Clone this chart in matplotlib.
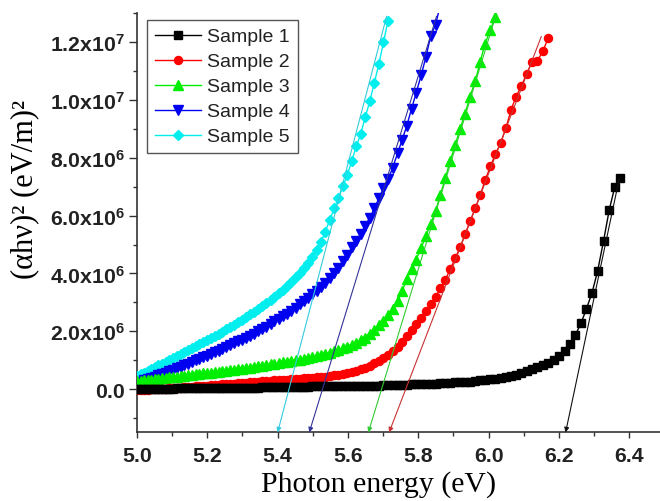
import matplotlib
matplotlib.use("Agg")
import matplotlib.pyplot as plt
from matplotlib.ticker import MultipleLocator, FixedLocator, FuncFormatter

plt.rcParams['font.family'] = ['Liberation Sans', 'DejaVu Sans']
plt.rcParams['mathtext.fontset'] = 'custom'
plt.rcParams['mathtext.bf'] = 'Liberation Sans:bold'
plt.rcParams['mathtext.rm'] = 'Liberation Sans:bold'
plt.rcParams['mathtext.default'] = 'bf'

# ---------------- data (y in units of 1e6 (eV/m)^2) ----------------
energy = [5.000, 5.010, 5.020, 5.030, 5.041, 5.051, 5.061, 5.072, 5.082, 5.092,
          5.103, 5.113, 5.124, 5.135, 5.145, 5.156, 5.167, 5.177, 5.188, 5.199,
          5.210, 5.221, 5.232, 5.243, 5.254, 5.265, 5.277, 5.288, 5.299, 5.310,
          5.322, 5.333, 5.345, 5.356, 5.368, 5.380, 5.391, 5.403, 5.415, 5.427,
          5.439, 5.451, 5.463, 5.475, 5.487, 5.499, 5.511, 5.523, 5.536, 5.548,
          5.561, 5.573, 5.586, 5.598, 5.611, 5.624, 5.636, 5.649, 5.662, 5.675,
          5.688, 5.701, 5.714, 5.727, 5.741, 5.754, 5.767, 5.781, 5.794, 5.808,
          5.822, 5.835, 5.849, 5.863, 5.877, 5.891, 5.905, 5.919, 5.933, 5.947,
          5.962, 5.976, 5.990, 6.005, 6.019, 6.034, 6.049, 6.064, 6.078, 6.093,
          6.108, 6.123, 6.139, 6.154, 6.169, 6.185, 6.200, 6.216, 6.231, 6.247,
          6.263, 6.278, 6.294, 6.310, 6.327, 6.343, 6.359, 6.375]

sample1 = [0.00, 0.00, 0.00, 0.00, 0.01, 0.01, 0.01, 0.01, 0.01, 0.01,
           0.01, 0.02, 0.02, 0.02, 0.02, 0.02, 0.02, 0.02, 0.02, 0.02,
           0.02, 0.03, 0.03, 0.03, 0.03, 0.04, 0.04, 0.04, 0.04, 0.05,
           0.05, 0.05, 0.05, 0.06, 0.06, 0.06, 0.06, 0.07, 0.07, 0.07,
           0.07, 0.08, 0.08, 0.08, 0.08, 0.09, 0.09, 0.09, 0.09, 0.10,
           0.10, 0.10, 0.10, 0.11, 0.11, 0.11, 0.11, 0.12, 0.12, 0.12,
           0.12, 0.13, 0.13, 0.14, 0.14, 0.15, 0.15, 0.16, 0.16, 0.17,
           0.17, 0.18, 0.19, 0.20, 0.21, 0.22, 0.23, 0.24, 0.25, 0.26,
           0.28, 0.30, 0.32, 0.34, 0.36, 0.39, 0.42, 0.46, 0.50, 0.55,
           0.61, 0.68, 0.75, 0.82, 0.90, 1.00, 1.13, 1.33, 1.56, 1.88,
           2.28, 2.77, 3.32, 4.08, 5.13, 6.19, 7.00, 7.30]

sample2 = [-0.04, -0.03, -0.03, -0.02, -0.01, -0.01, 0.00, 0.01, 0.01, 0.02,
           0.03, 0.04, 0.05, 0.06, 0.07, 0.08, 0.09, 0.10, 0.11, 0.12,
           0.13, 0.14, 0.15, 0.16, 0.17, 0.18, 0.19, 0.20, 0.21, 0.22,
           0.23, 0.24, 0.26, 0.27, 0.28, 0.29, 0.30, 0.31, 0.32, 0.33,
           0.34, 0.35, 0.36, 0.37, 0.38, 0.39, 0.40, 0.42, 0.43, 0.45,
           0.47, 0.49, 0.52, 0.55, 0.59, 0.63, 0.68, 0.74, 0.81, 0.89,
           0.98, 1.08, 1.19, 1.32, 1.46, 1.63, 1.82, 2.03, 2.24, 2.47,
           2.71, 2.95, 3.19, 3.48, 3.78, 4.15, 4.52, 4.90, 5.35, 5.80,
           6.25, 6.70, 7.22, 7.70, 8.12, 8.50, 9.02, 9.66, 10.12, 10.48,
           10.90, 11.30, 11.36, 11.68, 12.13]

sample3 = [0.27, 0.29, 0.30, 0.31, 0.33, 0.34, 0.36, 0.37, 0.39, 0.40,
           0.42, 0.43, 0.45, 0.46, 0.48, 0.49, 0.51, 0.52, 0.54, 0.55,
           0.57, 0.58, 0.60, 0.61, 0.63, 0.65, 0.66, 0.68, 0.70, 0.72,
           0.74, 0.76, 0.79, 0.81, 0.83, 0.85, 0.87, 0.89, 0.92, 0.94,
           0.96, 0.99, 1.02, 1.04, 1.07, 1.10, 1.13, 1.17, 1.21, 1.25,
           1.30, 1.35, 1.41, 1.47, 1.54, 1.61, 1.68, 1.78, 1.90, 2.05,
           2.20, 2.37, 2.56, 2.78, 3.03, 3.38, 3.80, 4.15, 4.48, 4.88,
           5.30, 5.72, 6.15, 6.72, 7.30, 7.90, 8.45, 9.00, 9.52, 10.12,
           10.65, 11.32, 11.95, 12.42, 12.88]

sample4 = [0.22, 0.26, 0.30, 0.34, 0.39, 0.43, 0.48, 0.53, 0.57, 0.62,
           0.67, 0.72, 0.77, 0.82, 0.87, 0.93, 0.99, 1.04, 1.10, 1.15,
           1.21, 1.27, 1.33, 1.39, 1.45, 1.52, 1.58, 1.65, 1.71, 1.78,
           1.85, 1.92, 2.00, 2.08, 2.16, 2.25, 2.34, 2.43, 2.52, 2.61,
           2.71, 2.82, 2.93, 3.04, 3.16, 3.28, 3.40, 3.53, 3.67, 3.85,
           4.00, 4.20, 4.42, 4.64, 4.90, 5.12, 5.38, 5.65, 5.93, 6.25,
           6.60, 6.95, 7.25, 7.65, 8.15, 8.62, 9.10, 9.70, 10.25, 10.85,
           11.50, 12.20, 12.60, 13.30]

sample5 = [0.45, 0.51, 0.57, 0.63, 0.69, 0.75, 0.82, 0.88, 0.94, 1.00,
           1.07, 1.13, 1.20, 1.27, 1.34, 1.41, 1.48, 1.55, 1.62, 1.69,
           1.76, 1.83, 1.91, 1.99, 2.07, 2.15, 2.23, 2.31, 2.40, 2.49,
           2.58, 2.67, 2.77, 2.87, 2.98, 3.09, 3.20, 3.32, 3.44, 3.57,
           3.71, 3.86, 4.02, 4.19, 4.37, 4.57, 4.80, 5.08, 5.45, 5.85,
           6.25, 6.62, 7.02, 7.40, 7.90, 8.40, 8.82, 9.40, 9.95, 10.60,
           11.25, 12.00, 12.74]

labels = ["Sample 1", "Sample 2", "Sample 3", "Sample 4", "Sample 5"]

# linear-fit (tangent) lines: (x_bottom, x_top), (y_bottom, y_top)
fit1_x = [6.219, 6.372]; fit1_y = [-1.5, 7.3]
fit2_x = [5.717, 6.150]; fit2_y = [-1.5, 12.2]
fit3_x = [5.658, 6.020]; fit3_y = [-1.5, 12.9]
fit4_x = [5.490, 5.852]; fit4_y = [-1.5, 12.9]
fit5_x = [5.400, 5.710]; fit5_y = [-1.5, 12.9]

xticks = [5.0, 5.2, 5.4, 5.6, 5.8, 6.0, 6.2, 6.4]
yticks = [0, 2, 4, 6, 8, 10, 12]

# ---------------- styles ----------------
colors = ['#000000', '#FF0000', '#00EE00', '#0000F0', '#00EEEE']
fit_colors = ['#111111', '#C83232', '#33CC33', '#333399', '#33CCDD']
markers = ['s', 'o', '^', 'v', 'D']
msizes = [5.4, 5.8, 6.6, 6.6, 5.6]

fig = plt.figure(figsize=(6.6, 5.02), dpi=100)
ax = fig.add_axes([137 / 660, 68.6 / 502, 523 / 660, 419.1 / 502])

series = [sample1, sample2, sample3, sample4, sample5]
fits = [(fit1_x, fit1_y), (fit2_x, fit2_y), (fit3_x, fit3_y),
        (fit4_x, fit4_y), (fit5_x, fit5_y)]

for i, ys in enumerate(series):
    xs = energy[:len(ys)]
    ax.plot(xs, [v * 1e6 for v in ys], color=colors[i], marker=markers[i],
            ms=msizes[i], mec=colors[i], mfc=colors[i], lw=1.0,
            label=labels[i], zorder=10 - i)

for i, (fx, fy) in enumerate(fits):
    ax.annotate('', xy=(fx[0], fy[0] * 1e6), xytext=(fx[1], fy[1] * 1e6),
                arrowprops=dict(arrowstyle='-|>', color=fit_colors[i], lw=0.8,
                                mutation_scale=7, shrinkA=0, shrinkB=0),
                zorder=20)

ax.set_xlim(5.0, 6.4875)
ax.set_ylim(-1.5e6, 1.3e7)

ax.xaxis.set_major_locator(FixedLocator(xticks))
ax.xaxis.set_minor_locator(MultipleLocator(0.1))
ax.yaxis.set_major_locator(FixedLocator([v * 1e6 for v in yticks]))
ax.yaxis.set_minor_locator(MultipleLocator(1e6))


def yfmt(v, pos):
    if abs(v) < 1:
        return "0.0"
    e = 0
    m = v
    while abs(m) >= 10:
        m /= 10.0
        e += 1
    return "%.1fx10$^{%d}$" % (m, e)


ax.yaxis.set_major_formatter(FuncFormatter(yfmt))
ax.xaxis.set_major_formatter(FuncFormatter(lambda v, p: "%.1f" % v))

for s in ['top', 'right']:
    ax.spines[s].set_visible(False)
for s in ['left', 'bottom']:
    ax.spines[s].set_linewidth(1.2)
    ax.spines[s].set_color('#333333')

ax.tick_params(which='both', direction='out', color='#333333', width=1.0)
ax.tick_params(axis='x', which='major', length=4.0, pad=6)
ax.tick_params(axis='x', which='minor', length=2.8)
ax.tick_params(axis='y', which='major', length=5.5, pad=3)
ax.tick_params(axis='y', which='minor', length=3.2)
for lab in ax.get_xticklabels() + ax.get_yticklabels():
    lab.set_fontweight('bold')
    lab.set_fontsize(15.3)
    lab.set_color('#222222')

ax.set_xlabel("Photon energy (eV)", family=['Liberation Serif', 'DejaVu Serif'],
              fontsize=21.5)
ax.xaxis.set_label_coords(0.461, -0.090)
ax.set_ylabel("(\u03b1h\u03bd)\u00b2 (eV/m)\u00b2",
              family=['Liberation Serif', 'DejaVu Serif'], fontsize=22)
ax.yaxis.set_label_coords(-0.187, 0.581)

leg = ax.legend(loc='upper left', bbox_to_anchor=(0.019, 0.984),
                borderaxespad=0, fontsize=14, frameon=True, fancybox=False,
                edgecolor='#555555', handlelength=2.4, handletextpad=0.3,
                labelspacing=0.38, borderpad=0.4, framealpha=1)
leg.get_frame().set_linewidth(1.0)
for t in leg.get_texts():
    t.set_color('#222222')

fig.savefig("out.png", dpi=100)
